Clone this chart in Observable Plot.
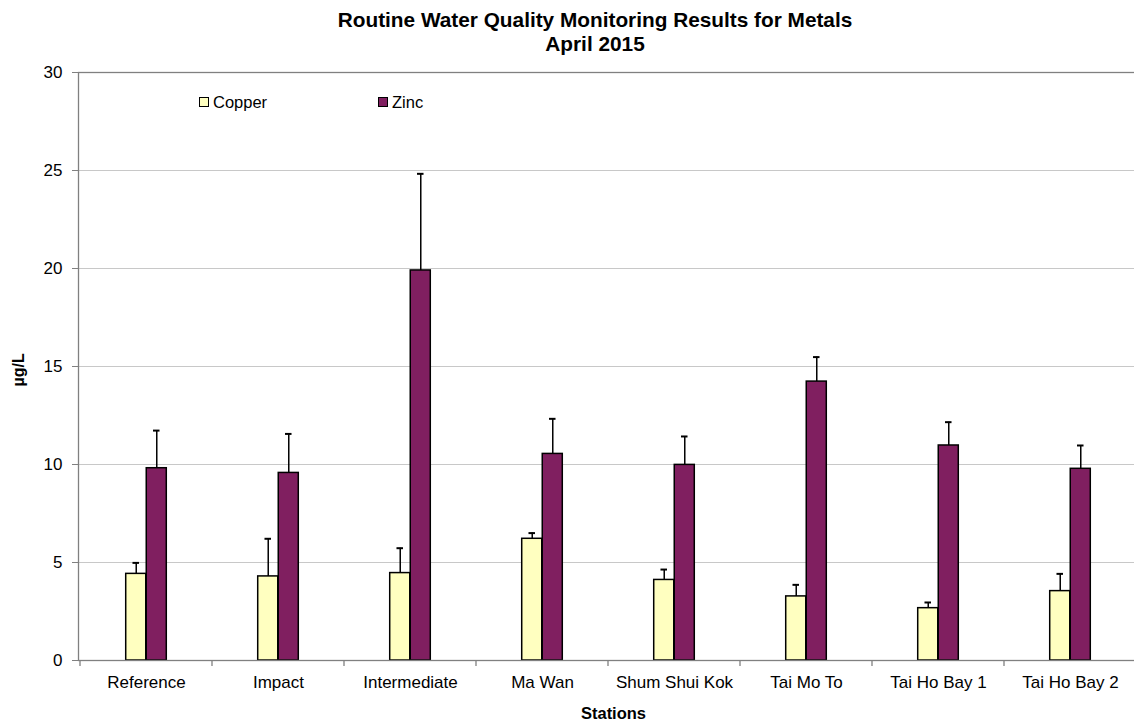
<!DOCTYPE html>
<html>
<head>
<meta charset="utf-8">
<script src="https://cdn.jsdelivr.net/npm/d3@7"></script>
<script src="https://cdn.jsdelivr.net/npm/@observablehq/plot@0.6"></script>
<style>
  html, body { margin: 0; padding: 0; background: #fff; overflow: hidden; }
  body { width: 1134px; height: 724px; position: relative; font-family: "Liberation Sans", Arial, sans-serif; }
  #title { box-sizing: border-box; height: 62px; padding-top: 8px; padding-left: 56px; text-align: center; font-weight: bold; font-size: 20.8px; line-height: 24px; color: #000; }
  .lg-sw { position: absolute; width: 10px; height: 10px; box-sizing: border-box; border: 1px solid #000; }
  .lg-tx { position: absolute; font-size: 16.5px; line-height: 1; color: #000; }
</style>
</head>
<body>
<div id="title">Routine Water Quality Monitoring Results for Metals<br>April 2015</div>
<div id="chart"></div>
<div class="lg-sw" style="left:199px;top:97px;background:#FFFFC0"></div>
<div class="lg-tx" style="left:213px;top:94px">Copper</div>
<div class="lg-sw" style="left:378px;top:97px;background:#801F60"></div>
<div class="lg-tx" style="left:392px;top:94px">Zinc</div>
<script>
const stations = ["Reference", "Impact", "Intermediate", "Ma Wan", "Shum Shui Kok", "Tai Mo To", "Tai Ho Bay 1", "Tai Ho Bay 2"];
const copper    = [4.42, 4.29, 4.46, 6.21, 4.11, 3.27, 2.67, 3.54];
const copperErr = [0.56, 1.92, 1.27, 0.29, 0.53, 0.59, 0.29, 0.88];
const zinc      = [9.81, 9.57, 19.90, 10.54, 9.98, 14.23, 10.97, 9.78];
const zincErr   = [1.92, 1.99, 4.93, 1.79, 1.45, 1.25, 1.19, 1.19];
const yTicks = [0, 5, 10, 15, 20, 25, 30];

const copperData = stations.map((s, i) => ({station: s, value: copper[i], err: copperErr[i]}));
const zincData = stations.map((s, i) => ({station: s, value: zinc[i], err: zincErr[i]}));

const width = 1134, height = 662;
const marginLeft = 78, marginRight = -4, marginTop = 10, marginBottom = 64;
const step = (width - marginLeft - marginRight) / stations.length;
const barW = step * 0.155;
const half = step / 2;
const capHalf = 3.5;
const font = "Liberation Sans, Arial, sans-serif";

const chart = Plot.plot({
  width, height, marginLeft, marginRight, marginTop, marginBottom,
  style: {fontFamily: font, fontSize: "17px", color: "#000", background: "#fff"},
  x: {domain: stations, padding: 0, axis: null},
  y: {domain: [0, 30], axis: null},
  marks: [
    Plot.gridY(yTicks.filter(t => t > 0 && t < 30), {stroke: "#c8c8c8", strokeOpacity: 1, strokeWidth: 1}),
    Plot.barY(copperData, {x: "station", y: "value", fill: "#FFFFC0", stroke: "#000", strokeWidth: 1.5,
      insetLeft: half - barW, insetRight: half}),
    Plot.barY(zincData, {x: "station", y: "value", fill: "#801F60", stroke: "#000", strokeWidth: 1.5,
      insetLeft: half, insetRight: half - barW}),
    Plot.ruleX(copperData, {x: "station", y1: "value", y2: d => d.value + d.err, stroke: "#000", strokeWidth: 1.5, dx: -barW / 2}),
    Plot.ruleX(zincData, {x: "station", y1: "value", y2: d => d.value + d.err, stroke: "#000", strokeWidth: 1.5, dx: barW / 2}),
    Plot.tickY(copperData, {x: "station", y: d => d.value + d.err, stroke: "#000", strokeWidth: 2,
      insetLeft: half - capHalf, insetRight: half - capHalf, dx: -barW / 2}),
    Plot.tickY(zincData, {x: "station", y: d => d.value + d.err, stroke: "#000", strokeWidth: 2,
      insetLeft: half - capHalf, insetRight: half - capHalf, dx: barW / 2}),
    Plot.frame({stroke: "#808080", strokeWidth: 1.3}),
    Plot.axisY({ticks: yTicks, tickSize: 6, tickPadding: 10, stroke: "#808080", fill: "#000", fontSize: 17, label: null}),
    Plot.axisX({tickSize: 0, tickPadding: 15, fill: "#000", fontSize: 17, label: null}),
    Plot.text(["µg/L"], {frameAnchor: "left", dx: -60, dy: 20, rotate: -90, fontWeight: "bold", fontSize: 16, fill: "#000"}),
    Plot.text(["Stations"], {frameAnchor: "bottom", dx: 5, dy: 58, lineAnchor: "bottom", fontWeight: "bold", fontSize: 16.5, fill: "#000"})
  ]
});
document.getElementById("chart").appendChild(chart);

// category boundary tick marks on the x axis, placed with the chart's own x scale
const xs = chart.scale("x");
const y0 = chart.scale("y").apply(0);
const svg = d3.select(chart);
const bounds = stations.map(s => xs.apply(s)).concat([xs.apply(stations[stations.length - 1]) + xs.bandwidth]);
svg.append("g").selectAll("line").data(bounds).join("line")
  .attr("x1", d => d).attr("x2", d => d)
  .attr("y1", y0).attr("y2", y0 + 6)
  .attr("stroke", "#808080").attr("stroke-width", 1.3);
</script>
</body>
</html>
